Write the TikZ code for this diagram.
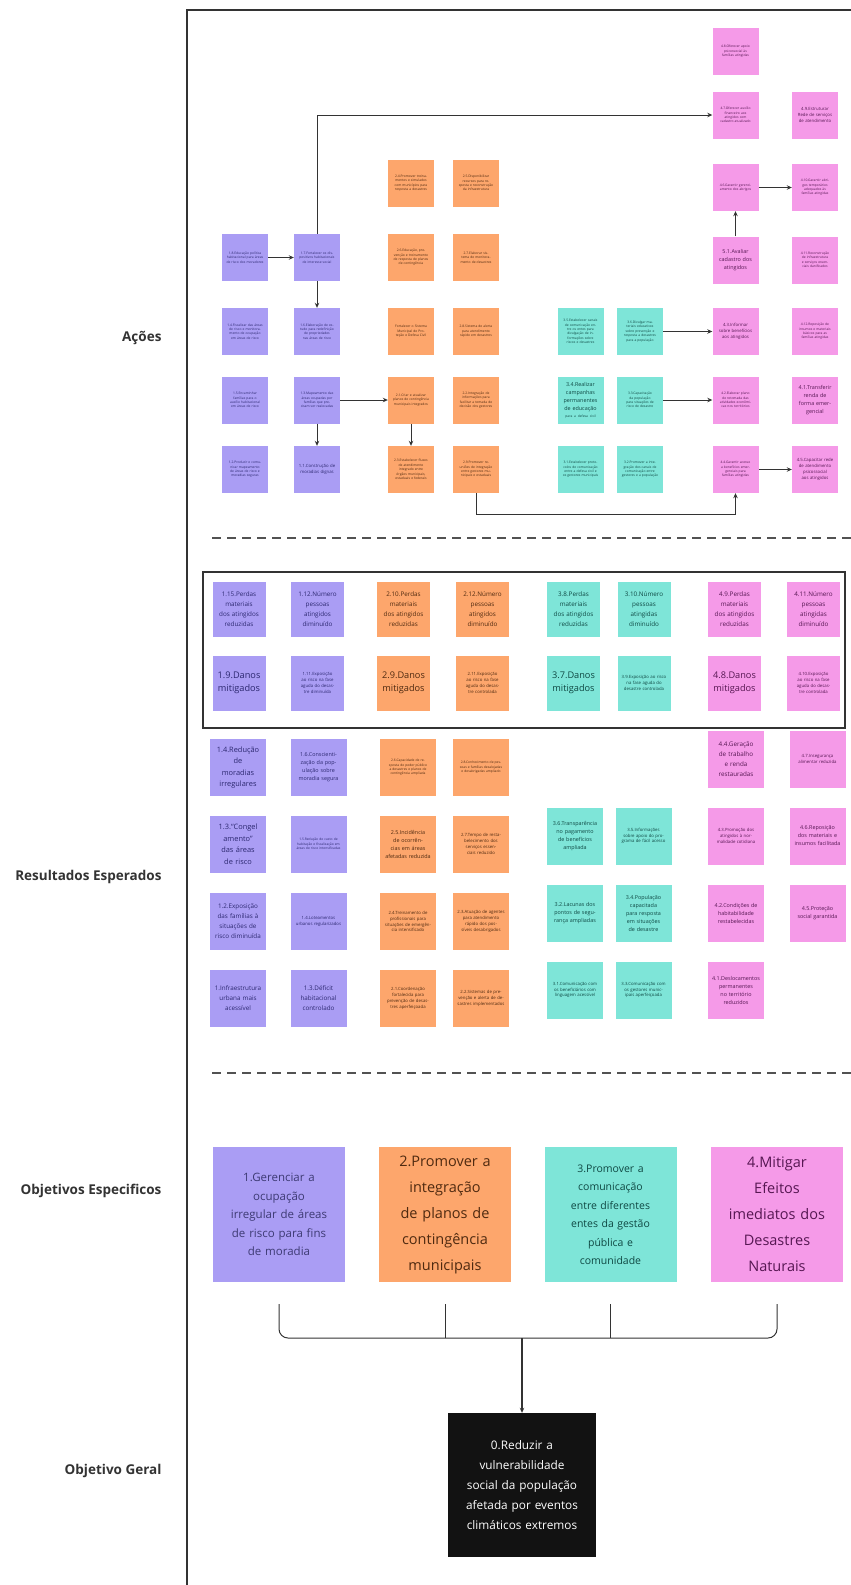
\documentclass[tikz,border=0pt]{standalone}
\usepackage{fontspec}
\setmainfont{Open Sans}
\usetikzlibrary{arrows.meta}
\definecolor{pur}{HTML}{AA9DF4}
\definecolor{purtxt}{HTML}{2C2870}
\definecolor{ora}{HTML}{FDA66C}
\definecolor{oratxt}{HTML}{4F2A10}
\definecolor{cya}{HTML}{7EE5D8}
\definecolor{cyatxt}{HTML}{0F4843}
\definecolor{pin}{HTML}{F59AE8}
\definecolor{pintxt}{HTML}{561752}
\definecolor{linec}{HTML}{333333}
\definecolor{labc}{HTML}{333333}
\tikzset{
 base/.style={rectangle, inner sep=0pt, align=center},
 act/.style={base, minimum width=46pt, minimum height=47pt, text width=37pt},
 res/.style={base, minimum width=53pt, minimum height=55pt, text width=45pt},
 resb/.style={base, minimum width=56pt, minimum height=57pt, text width=48pt},
 obj/.style={base, minimum width=132pt, minimum height=135pt, text width=128pt},
 P/.style={fill=pur, text=purtxt},
 O/.style={fill=ora, text=oratxt},
 C/.style={fill=cya, text=cyatxt},
 K/.style={fill=pin, text=pintxt},
 fa/.style={font=\fontsize{3.3}{4.4}\selectfont},
 fb/.style={font=\fontsize{4.3}{5.8}\selectfont},
 fc/.style={font=\fontsize{5.4}{8}\selectfont},
 fd/.style={font=\fontsize{6.3}{10}\selectfont},
 fe/.style={font=\fontsize{7.4}{11.5}\selectfont},
 ff/.style={font=\fontsize{9.2}{13}\selectfont},
 conn/.style={draw=linec, line width=1pt, -{Stealth[length=5pt,width=4.5pt]}},
 plain/.style={draw=linec, line width=1pt},
 lab/.style={anchor=east, text=labc, font=\bfseries\fontsize{13.5}{16}\selectfont},
 dash line/.style={draw=linec!85, line width=1.7pt, dash pattern=on 9pt off 6pt}
}
\begin{document}
\begin{tikzpicture}[x=1pt,y=-1pt]
\useasboundingbox (0,0) rectangle (851,1585);
\fill[white] (0,0) rectangle (851,1585);
% frame
\draw[linec, line width=1.5pt] (187,1585) -- (187,10) -- (851,10);
% labels
\node[lab] (l1) at (165,338) {Ações};
\node[lab] (l2) at (165,877) {Resultados Esperados};
\node[lab] (l3) at (165,1191) {Objetivos Especificos};
\node[lab] (l4) at (165,1471) {Objetivo Geral};
% dashed separators
\draw[dash line] (212,538) -- (851,538);
\draw[dash line] (212,1073) -- (851,1073);

% ===== Acoes =====
% purple
\node[act,P,fa] (pA1) at (245,257.5) {1.8.Educação política habitacional para áreas de risco dos moradores};
\node[act,P,fa] (pA2) at (317,257.5) {1.7.Fortalecer os dispositivos habitacionais de interesse social};
\node[act,P,fa] (pB1) at (245,331.5) {1.4.Fiscalizar das áreas de risco e monitoramento de ocupação em áreas de risco};
\node[act,P,fa] (pB2) at (317,331.5) {1.6.Elaboração de estudo para redefinição de propriedades nas áreas de risco};
\node[act,P,fa] (pC1) at (245,400) {1.5.Encaminhar famílias para o auxílio habitacional em áreas de risco};
\node[act,P,fa] (pC2) at (317,400) {1.3.Mapeamento das áreas ocupadas por famílias que precisam ser realocadas};
\node[act,P,fa] (pD1) at (245,469.5) {1.2.Produzir e comunicar mapeamento de áreas de risco e moradias seguras};
\node[act,P,fb] (pD2) at (317,469.5) {1.1.Construção de moradias dignas};
% orange
\node[act,O,fa] (o01) at (411,183) {2.4.Promover treinamentos e simulados com municípios para resposta a desastres};
\node[act,O,fa] (o02) at (476,183) {2.5.Disponibilizar recursos para resposta e reconstrução da infraestrutura};
\node[act,O,fa] (oA1) at (411,257.5) {2.6.Educação, prevenção e treinamento de resposta de planos de contingência};
\node[act,O,fa] (oA2) at (476,257.5) {2.7.Elaborar sistema de monitoramento de desastres};
\node[act,O,fa] (oB1) at (411,331.5) {Fortalecer o Sistema Municipal de Proteção e Defesa Civil};
\node[act,O,fa] (oB2) at (476,331.5) {2.8.Sistema de alerta para atendimento rápido em desastres};
\node[act,O,fa] (oC1) at (411,400) {2.1.Criar e atualizar planos de contingência municipais integrados};
\node[act,O,fa] (oC2) at (476,400) {2.2.Integração de informações para facilitar a tomada de decisão dos gestores};
\node[act,O,fa] (oD1) at (411,469.5) {2.3.Estabelecer fluxos de atendimento integrado entre órgãos municipais, estaduais e federais};
\node[act,O,fa] (oD2) at (476,469.5) {2.9.Promover reuniões de integração entre gestores municipais e estaduais};
% cyan
\node[act,C,fa] (cB1) at (580.5,331.5) {3.5.Estabelecer canais de comunicação entre os entes para divulgação de informações sobre riscos e desastres};
\node[act,C,fa] (cB2) at (640,331.5) {3.6.Divulgar materiais educativos sobre prevenção e resposta a desastres para a população};
\node[act,C,fc] (cC1) at (580.5,400) {3.4.Realizar campanhas permanentes de educação\\[-1pt]{\fontsize{3.3}{4.4}\selectfont para a defesa civil}};
\node[act,C,fa] (cC2) at (640,400) {3.3.Capacitação da população para situações de risco de desastre};
\node[act,C,fa] (cD1) at (580.5,469.5) {3.1.Estabelecer protocolos de comunicação entre a defesa civil e os gestores municipais};
\node[act,C,fa] (cD2) at (640,469.5) {3.2.Promover a integração dos canais de comunicação entre gestores e a população};
% pink
\node[act,K,fa] (kT) at (735.5,51.5) {4.8.Oferecer apoio psicossocial às famílias atingidas};
\node[act,K,fa] (k01) at (735.5,115) {4.7.Oferecer auxílio financeiro aos atingidos com cadastro atualizado};
\node[act,K,fb] (k02) at (815,115) {4.9.Estruturar Rede de serviços de atendimento};
\node[act,K,fa] (k11) at (735.5,187.5) {4.6.Garantir gerenciamento dos abrigos};
\node[act,K,fa] (k12) at (815,187.5) {4.10.Garantir abrigos temporários adequados às famílias atingidas};
\node[act,K,fc] (kA1) at (735.5,260) {5.1.Avaliar cadastro dos atingidos};
\node[act,K,fa] (kA2) at (815,260) {4.11.Reconstrução de infraestrutura e serviços essenciais danificados};
\node[act,K,fb] (kB1) at (735.5,331.5) {4.3.Informar sobre benefícios aos atingidos};
\node[act,K,fa] (kB2) at (815,331.5) {4.12.Reposição de insumos e materiais básicos para as famílias atingidas};
\node[act,K,fa] (kC1) at (735.5,400) {4.2.Elaborar plano de retomada das atividades econômicas nos territórios};
\node[act,K,fc] (kC2) at (815,400) {4.1.Transferir renda de forma emergencial};
\node[act,K,fa] (kD1) at (735.5,469.5) {4.4.Garantir acesso a benefícios emergenciais para famílias atingidas};
\node[act,K,fb] (kD2) at (815,469.5) {4.5.Capacitar rede de atendimento psicossocial aos atingidos};
% action connectors
\draw[conn] (pA1) -- (pA2);
\draw[conn] (pA2.north) |- (k01.west);
\draw[conn] (pA2) -- (pB2);
\draw[conn] (pC2) -- (oC1);
\draw[conn] (pC2) -- (pD2);
\draw[conn] (oC1) -- (oD1);
\draw[conn] (oD2.south) -- ++(0,21) -| (kD1.south);
\draw[conn] (cB2) -- (kB1);
\draw[conn] (cC2) -- (kC1);
\draw[conn] (kA1) -- (k11);
\draw[conn] (k11) -- (k12);
\draw[conn] (kD1) -- (kD2);

% ===== Resultados (frame) =====
\draw[linec, line width=1.5pt] (203,572) rectangle (845,728);
\node[res,P,fd] (r11) at (239,609.5) {1.15.Perdas materiais dos atingidos reduzidas};
\node[res,P,fd] (r12) at (317.5,609.5) {1.12.Número pessoas atingidos diminuído};
\node[res,O,fd] (r13) at (403.5,609.5) {2.10.Perdas materiais dos atingidos reduzidas};
\node[res,O,fd] (r14) at (482.5,609.5) {2.12.Número pessoas atingidos diminuído};
\node[res,C,fd] (r15) at (573.5,609.5) {3.8.Perdas materiais dos atingidos reduzidas};
\node[res,C,fd] (r16) at (644,609.5) {3.10.Número pessoas atingidas diminuído};
\node[res,K,fd] (r17) at (734.5,609.5) {4.9.Perdas materiais dos atingidos reduzidas};
\node[res,K,fd] (r18) at (813.5,609.5) {4.11.Número pessoas atingidas diminuído};
\node[res,P,ff] (r21) at (239,683) {1.9.Danos\\mitigados};
\node[res,P,fb] (r22) at (317.5,683) {1.11.Exposição ao risco na fase aguda do desastre diminuída};
\node[res,O,ff] (r23) at (403.5,683) {2.9.Danos\\mitigados};
\node[res,O,fb] (r24) at (482.5,683) {2.11.Exposição ao risco na fase aguda do desastre controlada};
\node[res,C,ff] (r25) at (573.5,683) {3.7.Danos\\mitigados};
\node[res,C,fb] (r26) at (644,683) {3.9.Exposição ao risco na fase aguda do desastre controlada};
\node[res,K,ff] (r27) at (734.5,683) {4.8.Danos\\mitigados};
\node[res,K,fb] (r28) at (813.5,683) {4.10.Exposição ao risco na fase aguda do desastre controlada};

% ===== Resultados (below) =====
\node[resb,P,fe] (s11) at (238,767.5) {1.4.Redução\\de\\moradias\\irregulares};
\node[resb,P,fc] (s12) at (318.5,767.5) {1.6.Conscienti\-zação da população sobre moradia segura};
\node[resb,O,fa,text width=46pt] (s13) at (408,767.5) {2.6.Capacidade de resposta do poder público a desastres e planos de contingência ampliada};
\node[resb,O,fa,text width=46pt] (s14) at (481,767.5) {2.8.Conhecimento de pessoas e famílias desalojadas e desabrigadas ampliado};
\node[resb,P,fe] (s21) at (238,844) {1.3.“Congel\\amento”\\das áreas\\de risco};
\node[resb,P,fa,text width=46pt] (s22) at (318.5,844) {1.5.Redução do custo de habitação e fiscalização em áreas de risco intensificadas};
\node[resb,O,fc] (s23) at (408,844) {2.5.Incidência de ocorrências em áreas afetadas reduzida};
\node[resb,O,fb] (s24) at (481,844) {2.7.Tempo de restabelecimento dos serviços essenciais reduzido};
\node[resb,P,fd] (s31) at (238,921.5) {1.2.Exposição das famílias à situações de risco diminuída};
\node[resb,P,fb] (s32) at (318.5,921.5) {1.4.Loteamentos urbanos regularizados};
\node[resb,O,fb] (s33) at (408,921.5) {2.4.Treinamento de profissionais para situações de emergência intensificado};
\node[resb,O,fb] (s34) at (481,921.5) {2.3.Atuação de agentes para atendimento rápido dos possíveis desabrigados};
\node[resb,P,fd] (s41) at (238,998.5) {1.Infraestrutura urbana mais acessível};
\node[resb,P,fd] (s42) at (318.5,998.5) {1.3.Déficit\\habitacional\\controlado};
\node[resb,O,fb] (s43) at (408,998.5) {2.1.Coordenação fortalecida para prevenção de desastres aperfeiçoada};
\node[resb,O,fb] (s44) at (481,998.5) {2.2.Sistemas de prevenção e alerta de desastres implementados};
% right half
\node[resb,K,fd] (t17) at (736,759) {4.4.Geração de trabalho e renda restauradas};
\node[resb,K,fb] (t18) at (817.5,759) {4.7.Insegurança alimentar reduzida};
\node[resb,C,fc] (t25) at (575,836) {3.6.Transparência no pagamento de benefícios ampliada};
\node[resb,C,fb] (t26) at (643.5,836) {3.5.Informações sobre apoio do programa de fácil acesso};
\node[resb,K,fb] (t27) at (736,836) {4.3.Promoção dos atingidos à normalidade cotidiana};
\node[resb,K,fc] (t28) at (817.5,836) {4.6.Reposição dos materiais e insumos facilitada};
\node[resb,C,fc] (t35) at (575,913) {3.2.Lacunas dos pontos de segurança ampliadas};
\node[resb,C,fc] (t36) at (643.5,913) {3.4.População capacitada para resposta em situações de desastre};
\node[resb,K,fc] (t37) at (736,913) {4.2.Condições de habitabilidade restabelecidas};
\node[resb,K,fc] (t38) at (817.5,913) {4.5.Proteção social garantida};
\node[resb,C,fb] (t45) at (575,990) {3.1.Comunicação com os beneficiários com linguagem acessível};
\node[resb,C,fb] (t46) at (643.5,990) {3.3.Comunicação com os gestores municipais aperfeiçoada};
\node[resb,K,fc] (t47) at (736,990) {4.1.Deslocamentos permanentes no território reduzidos};

% ===== Objetivos especificos =====
\node[obj,fill=pur,text=purtxt!80!gray,font=\fontsize{11.5}{18.5}\selectfont] (ob1) at (279,1214.5) {1.Gerenciar a\\ocupação\\irregular de áreas\\de risco para fins\\de moradia};
\node[obj,fill=ora,text=oratxt,font=\fontsize{14.5}{26}\selectfont] (ob2) at (445,1214.5) {2.Promover a\\integração\\de planos de\\contingência\\municipais};
\node[obj,fill=cya,text=cyatxt,font=\fontsize{10.5}{18.5}\selectfont] (ob3) at (610.5,1214.5) {3.Promover a\\comunicação\\entre diferentes\\entes da gestão\\pública e\\comunidade};
\node[obj,fill=pin,text=pintxt,font=\fontsize{14.5}{26}\selectfont] (ob4) at (777,1214.5) {4.Mitigar\\Efeitos\\imediatos dos\\Desastres\\Naturais};

% ===== Objetivo geral =====
\node[base, minimum width=148pt, minimum height=144pt, text width=144pt, fill=black!93, text=white, font=\fontsize{11.8}{20}\selectfont] (gen) at (522,1485) {0.Reduzir a\\vulnerabilidade\\social da população\\afetada por eventos\\climáticos extremos};

% bracket
\coordinate (mid) at (522,1338);
\draw[plain, rounded corners=9pt] ([yshift=-22pt]ob1.south) |- (mid) -| ([yshift=-22pt]ob4.south);
\draw[plain] ([yshift=-22pt]ob2.south) -- (ob2.south |- mid);
\draw[plain] ([yshift=-22pt]ob3.south) -- (ob3.south |- mid);
\draw[conn, line width=1.3pt] (mid) -- (gen.north);
\end{tikzpicture}
\end{document}
